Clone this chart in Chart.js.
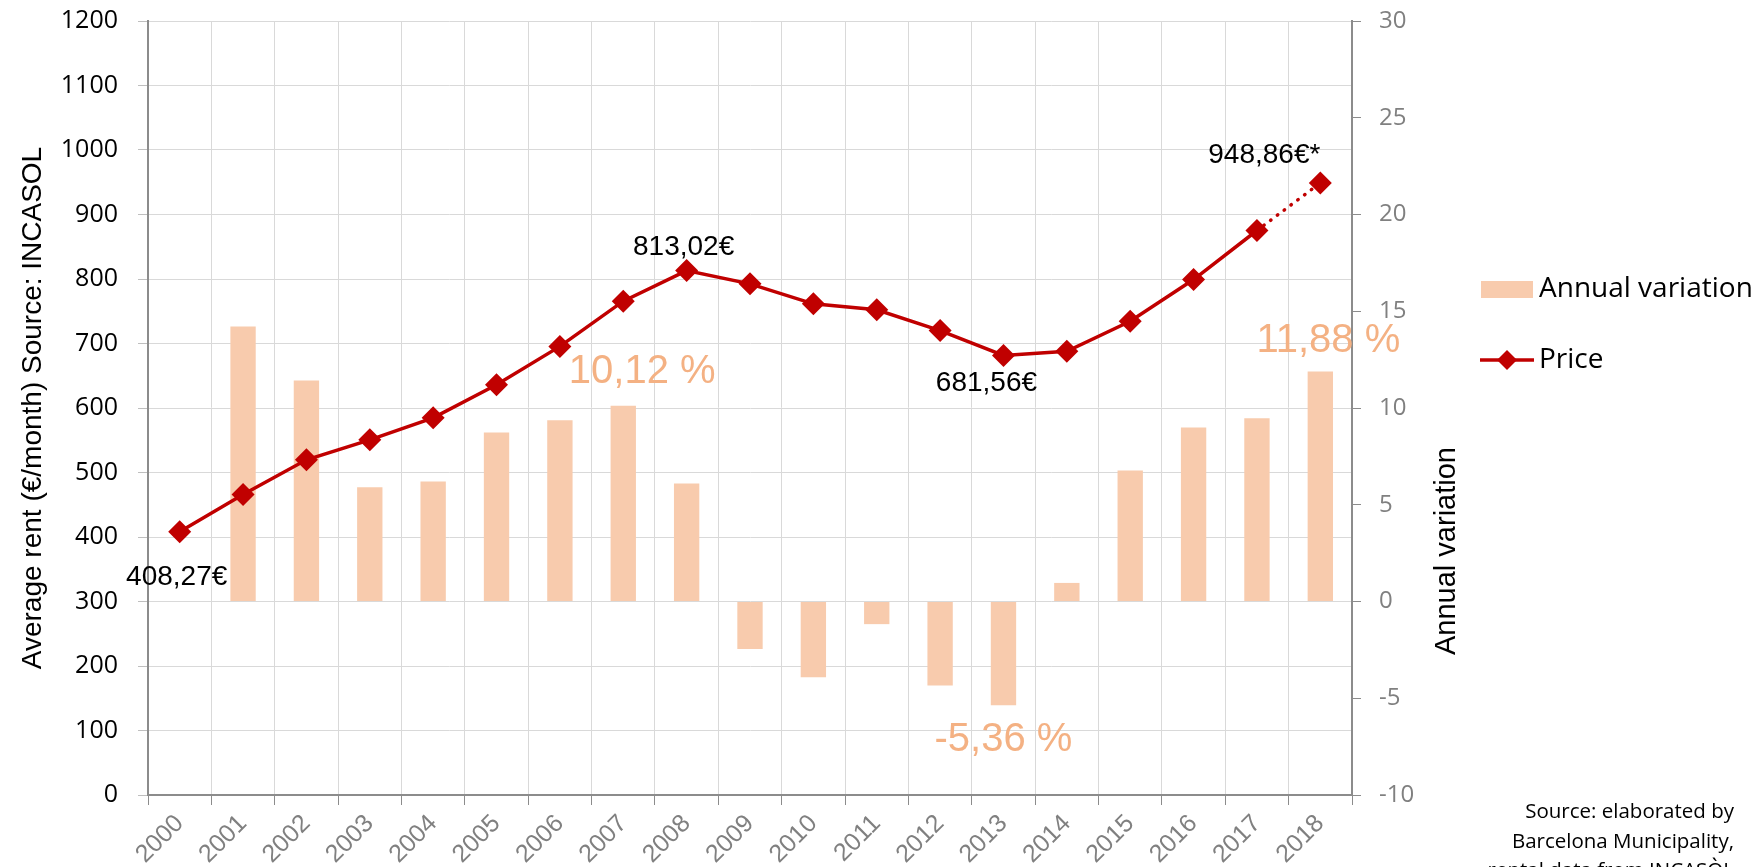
<!DOCTYPE html>
<html>
<head>
<meta charset="utf-8">
<script src="https://cdn.jsdelivr.net/npm/chart.js@4.4.1/dist/chart.umd.min.js"></script>
<style>
  body { margin: 0; background: #fff; }
  #wrap { position: relative; width: 1764px; height: 867px; overflow: hidden; }
  #fuente { position: absolute; right: 30px; top: 796px; font-family: "Open Sans", sans-serif; font-size: 20.5px; line-height: 29.5px; text-align: right; color: #000; }
</style>
</head>
<body>
<div id="wrap">
  <canvas id="grafAlquiler" width="1764" height="867"></canvas>
  <div id="fuente">Source: elaborated by<br>Barcelona Municipality,<br>rental data from INCASÒL</div>
</div>
<script>
// DATOS
const anios = ['2000','2001','2002','2003','2004','2005','2006','2007','2008','2009',
               '2010','2011','2012','2013','2014','2015','2016','2017','2018'];
const precio = [408.27, 465.9, 519.7, 550.7, 584.8, 636.0, 695.5, 765.6, 813.02, 792.5,
                761.5, 752.2, 720.0, 681.56, 688.0, 734.5, 799.2, 875.2, 948.86];
const variacion = [null, 14.21, 11.42, 5.91, 6.20, 8.73, 9.37, 10.12, 6.10, -2.46,
                   -3.91, -1.17, -4.34, -5.36, 0.96, 6.77, 8.99, 9.47, 11.88];
const ticksPrecio = [0, 1200, 100];
const ticksVariacion = [-10, 30, 5];

// etiquetas de precio y de variacion (indice, texto)
const etiqPrecio = [[0, '408,27€', -3, 46], [8, '813,02€', -3, -23], [13, '681,56€', -17, 28], [18, '948,86€*', -56, -28]];
const etiqVariacion = [[7, '10,12 %', 19, -34], [13, '-5,36 %', 0, 35], [18, '11,88 %', 8, -31]];

const ROJO = '#C00000';
const NARANJA = '#F8CBAD';
const NARANJA_TXT = '#F4B183';
const GRIS = '#8C8C8C';
const GRID = '#D9D9D9';

const pluginEtiquetas = {
    id: 'etiquetas',
    afterDatasetsDraw(chart) {
        const ctx = chart.ctx;
        const linea = chart.getDatasetMeta(0).data;
        const barras = chart.getDatasetMeta(1).data;
        ctx.save();
        ctx.textAlign = 'center';
        ctx.textBaseline = 'middle';
        ctx.fillStyle = '#000';
        ctx.font = '28px "Liberation Sans", Arial, sans-serif';
        etiqPrecio.forEach(([i, txt, dx, dy]) => {
            ctx.fillText(txt, linea[i].x + dx, linea[i].y + dy);
        });
        ctx.fillStyle = NARANJA_TXT;
        ctx.font = '40px "Liberation Sans", Arial, sans-serif';
        etiqVariacion.forEach(([i, txt, dx, dy]) => {
            ctx.fillText(txt, barras[i].x + dx, barras[i].y + dy);
        });

        // titulo eje derecho
        ctx.fillStyle = '#000';
        ctx.font = '29px "Liberation Sans", Arial, sans-serif';
        ctx.translate(1447, 551);
        ctx.rotate(-Math.PI / 2);
        ctx.fillText('Annual variation', 0, 0);
        ctx.restore();

        // leyenda
        ctx.save();
        ctx.fillStyle = NARANJA;
        ctx.fillRect(1481, 281, 52, 17);
        ctx.strokeStyle = ROJO;
        ctx.lineWidth = 3.5;
        ctx.beginPath();
        ctx.moveTo(1480, 360);
        ctx.lineTo(1534, 360);
        ctx.stroke();
        ctx.fillStyle = ROJO;
        ctx.beginPath();
        ctx.moveTo(1507, 350); ctx.lineTo(1517, 360); ctx.lineTo(1507, 370); ctx.lineTo(1497, 360);
        ctx.closePath();
        ctx.fill();
        ctx.fillStyle = '#000';
        ctx.font = '28px "Open Sans", sans-serif';
        ctx.textBaseline = 'middle';
        ctx.fillText('Annual variation', 1539, 289);
        ctx.fillText('Price', 1539, 360);
        ctx.restore();
    }
};

// quitar el relleno vertical que Chart.js suma por las etiquetas
const ajusteVertical = (ancho) => s => {
    s.width = ancho;
    s.paddingTop = 0;
    s.paddingBottom = 0;
};

const ctxAlq = document.getElementById('grafAlquiler').getContext('2d');
const grafAlquiler = new Chart(ctxAlq, {
    type: 'bar',
    data: {
        labels: anios,
        datasets: [{
            type: 'line',
            label: 'Price',
            data: precio,
            yAxisID: 'y',
            borderColor: ROJO,
            backgroundColor: ROJO,
            borderWidth: 3.5,
            pointStyle: 'rectRot',
            pointRadius: 11.5,
            pointBorderWidth: 0,
            pointBackgroundColor: ROJO,
            tension: 0,
            order: 0,
            segment: {
                borderDash: c => c.p0DataIndex === 17 ? [0.5, 8] : undefined,
                borderCapStyle: c => c.p0DataIndex === 17 ? 'round' : undefined
            }
        }, {
            type: 'bar',
            label: 'Annual variation',
            data: variacion,
            yAxisID: 'y1',
            backgroundColor: NARANJA,
            borderWidth: 0,
            categoryPercentage: 1,
            barPercentage: 0.4,
            order: 1
        }]
    },
    options: {
        responsive: false,
        animation: false,
        devicePixelRatio: 1,
        layout: { padding: { left: 0, right: 292, top: 21, bottom: 0 } },
        plugins: { legend: { display: false }, tooltip: { enabled: false } },
        scales: {
            x: {
                afterFit: s => { s.height = 72; },
                grid: { color: GRID, tickColor: GRIS, tickLength: 10, offset: true },
                border: { color: GRIS, width: 2 },
                ticks: {
                    color: '#808080', autoSkip: false, minRotation: 45, maxRotation: 45, padding: 4,
                    font: { family: '"Liberation Sans", Arial, sans-serif', size: 25 }
                }
            },
            y: {
                position: 'left',
                min: ticksPrecio[0], max: ticksPrecio[1],
                afterFit: ajusteVertical(148),
                grid: { color: GRID, tickColor: '#BFBFBF', tickLength: 10 },
                border: { color: GRIS, width: 2 },
                ticks: {
                    stepSize: ticksPrecio[2], color: '#000', padding: 20,
                    callback: v => String(v),
                    font: { family: '"Open Sans", sans-serif', size: 25 }
                },
                title: {
                    display: true, text: 'Average rent (€/month) Source: INCASOL', color: '#000',
                    padding: { top: 16, bottom: 0 },
                    font: { family: '"Liberation Sans", Arial, sans-serif', size: 28 }
                }
            },
            y1: {
                position: 'right',
                min: ticksVariacion[0], max: ticksVariacion[1],
                afterFit: ajusteVertical(120),
                grid: { drawOnChartArea: false, tickColor: GRIS, tickLength: 9 },
                border: { color: GRIS, width: 2 },
                ticks: {
                    stepSize: ticksVariacion[2], color: '#808080', padding: 18,
                    font: { family: '"Open Sans", sans-serif', size: 24 }
                }
            }
        }
    },
    plugins: [pluginEtiquetas]
});
</script>
</body>
</html>
